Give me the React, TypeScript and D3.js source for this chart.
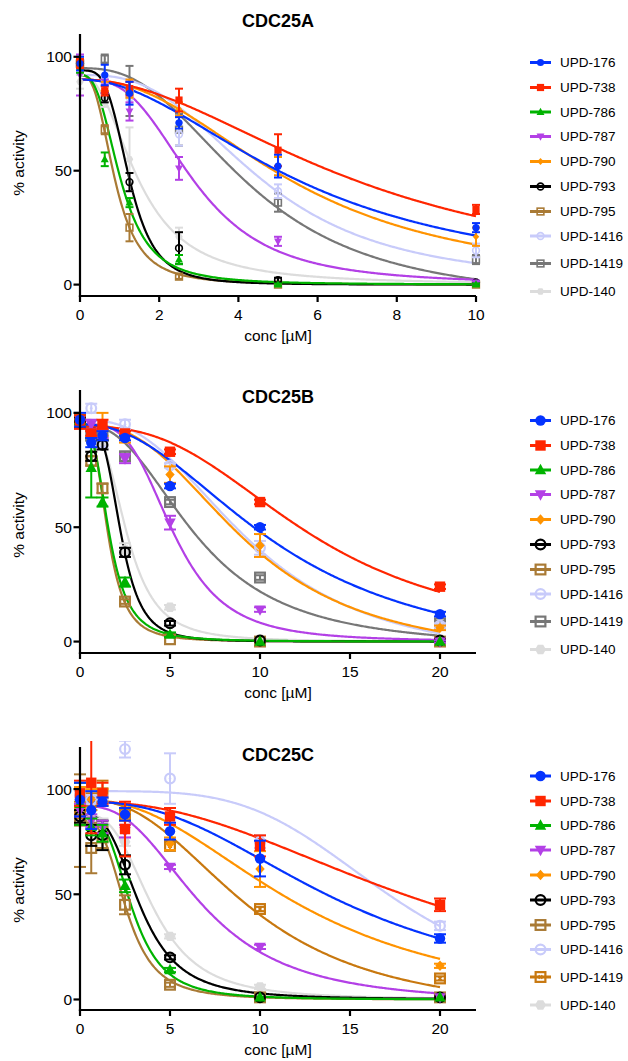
import React from "react";
import * as d3 from "d3";

// ---------- data ----------
const COMPOUNDS = ["UPD-176", "UPD-738", "UPD-786", "UPD-787", "UPD-790", "UPD-793", "UPD-795", "UPD-1416", "UPD-1419", "UPD-140"];
const TITLES = ["CDC25A", "CDC25B", "CDC25C"];

const CONC_A = [0, 0.625, 1.25, 2.5, 5, 10];
const CONC_BC = [0, 0.625, 1.25, 2.5, 5, 10, 20];

const X_TICKS_A = [0, 2, 4, 6, 8, 10];
const X_TICKS_BC = [0, 5, 10, 15, 20];
const Y_TICKS = [0, 50, 100];

// means (% activity), one row per compound
const MEAN_A = [
  [97, 92, 84, 71, 52, 25],
  [97, 85, 86, 81, 59, 33],
  [95, 55, 36, 11, 0, 0],
  [92, 87, 76, 51, 19, 1],
  [97, 87, 86, 77, 52, 21],
  [97, 82, 45, 16, 2, 1],
  [97, 68, 25, 3.5, 0, 0],
  [98, 90, 82, 66, 41, 15],
  [97, 99, 85, 68, 36, 11],
  [89, 80, 55, 21, 2, 0],
];
const SEM_A = [
  [3, 4.5, 5, 2.5, 5, 2],
  [2, 2, 3, 5, 7, 2],
  [2, 3, 2, 2, 0.5, 0.5],
  [9, 3, 4, 5, 2, 0.5],
  [2, 2, 4, 3, 4, 4],
  [2, 2, 4, 7, 1, 0.5],
  [2, 2, 6, 1, 0.5, 0.5],
  [2, 2, 3, 5, 3, 3],
  [2, 2, 11, 7, 4, 2],
  [3, 2, 14, 4, 1, 0.5],
];

const MEAN_B = [
  [97, 87, 90, 89, 68, 50, 12],
  [96, 91, 95, 91, 83, 61, 24],
  [97, 76, 61, 26, 3, 0, 0],
  [97, 95, 91, 80, 52, 14, 0],
  [97, 91, 95, 89, 73, 42, 6],
  [96, 81, 86, 39, 8, 0.5, 0.5],
  [96, 79, 67, 17.5, 1, 0, 0],
  [97, 102, 87, 95, 77, 41, 7],
  [97, 90, 90, 81, 61, 28, 8],
  [95, 90, 88, 40, 15, 1, 1],
];
const SEM_B = [
  [3, 2, 2, 1, 1, 1, 1],
  [3, 1, 2, 1, 1, 1, 1],
  [2, 13, 2, 2, 1, 0, 0],
  [2, 2, 2, 2, 3, 1, 0.5],
  [2, 2, 5, 2, 3.6, 5, 1],
  [2, 2, 2, 2, 1, 0, 0],
  [2, 2, 2, 1, 0, 0, 0],
  [1, 2, 2, 2, 1, 3, 1],
  [2, 2, 2, 2, 1, 1, 1],
  [2, 2, 2, 3, 1, 0, 0],
];

const MEAN_C = [
  [95, 90, 94, 88, 80, 67, 29],
  [98, 103, 98, 81, 87, 73, 45],
  [93, 82, 79, 54, 14, 1, 1],
  [90, 85, 82, 80, 63, 25, 1],
  [96, 95, 97, 86, 74, 62, 16],
  [87, 78, 78, 64, 20, 1, 1],
  [85, 72, 77, 45, 7, 1, 1],
  [97, 95, 95, 119, 105, 75, 35],
  [90, 94, 98, 88, 73, 43, 10],
  [88, 86, 84, 75, 30, 6, 1],
];
const SEM_C = [
  [8, 9, 2, 3, 4, 8.5, 2],
  [6, 24, 5, 13, 4, 5, 3],
  [10, 4, 4, 3, 1, 0, 0],
  [3, 3, 3, 3, 1, 1, 0],
  [5, 5, 3, 3, 3, 8.5, 1],
  [3, 5, 7, 4.5, 1, 0, 0],
  [22, 12, 5, 4.5, 1, 0, 0],
  [2, 2, 2, 4, 12, 3, 2],
  [4, 4, 6, 3, 2, 1, 1],
  [2, 2, 2, 2, 1, 1, 0],
];

// fitted curve parameters: [top, bottom, IC50, hill]
const FIT_A = [
  [90, 0, 5.6, 2],
  [90, 0, 7.07, 2],
  [92, 0, 1.03, 2.8],
  [90, 0, 2.9, 3],
  [90, 0, 5.4, 2.3],
  [94, 0, 1.24, 3.8],
  [92, 0, 0.885, 2.85],
  [92, 0, 4.6, 2.8],
  [95, -8, 4.3, 2.6],
  [92, 0, 1.48, 2.33],
];
const FIT_B = [
  [95, -10, 11, 2.2],
  [94, 0, 12.8, 2.7],
  [95, 0, 1.62, 3],
  [95, 0, 5.2, 3.6],
  [95, -8, 9.3, 2.6],
  [95, 0, 2.27, 4],
  [95, 0, 1.55, 3.2],
  [97, -10, 9.5, 2.6],
  [95, -3, 6.5, 2.5],
  [95, 0, 2.6, 3.2],
];
const FIT_C = [
  [94, 0, 14.4, 2.47],
  [94, 0, 19, 2.3],
  [88, 0, 2.87, 3.33],
  [92, -2, 6.8, 2.7],
  [95, -5, 12.2, 2.3],
  [88, 0, 3.37, 3.1],
  [85, 0, 2.59, 3.25],
  [99, 0, 17.2, 4.05],
  [95, -8, 9.5, 2.5],
  [88, 0, 4.05, 3.1],
];

// ---------- styles ----------
const COLORS_AB = ["#0433ff", "#ff2600", "#00b300", "#b340e6", "#ff9300", "#000000", "#a97a35", "#c8cbfa", "#777777", "#dcdcdc"];
const COLORS_C = ["#0433ff", "#ff2600", "#00b300", "#b340e6", "#ff9300", "#000000", "#a97a35", "#c8cbfa", "#c8780f", "#dcdcdc"];
const SHAPES_AB = ["circle", "square", "triangle", "triangleDown", "diamond", "openCircle", "openSquare", "dotCircle", "dotSquare", "hexagon"];
const SHAPES_C = ["circle", "square", "triangle", "triangleDown", "diamond", "openCircle", "openSquare", "dotCircle", "xSquare", "hexagon"];

const FONT = "'Liberation Sans', Arial, Helvetica, sans-serif";
const LEGEND_OFFSETS = [0, 25, 49.5, 74, 99, 124, 149, 173.5, 201, 229];

function Marker({ shape, color, s, sw }: { shape: string; color: string; s: number; sw: number }) {
  const so = s + sw * 0.35; // open markers drawn slightly larger
  switch (shape) {
    case "circle":
      return <circle r={s} fill={color} />;
    case "square":
      return <rect x={-s} y={-s} width={2 * s} height={2 * s} fill={color} />;
    case "triangle":
      return <path d={`M0,${-s * 1.2}L${s * 1.1},${s * 0.8}L${-s * 1.1},${s * 0.8}Z`} fill={color} />;
    case "triangleDown":
      return <path d={`M0,${s * 1.2}L${s * 1.1},${-s * 0.8}L${-s * 1.1},${-s * 0.8}Z`} fill={color} />;
    case "diamond":
      return <path d={`M0,${-s}L${s * 0.9},0L0,${s}L${-s * 0.9},0Z`} fill={color} />;
    case "openCircle":
      return <circle r={so - sw / 2} fill="none" stroke={color} strokeWidth={sw} />;
    case "openSquare":
      return <rect x={-so + sw / 2} y={-so + sw / 2} width={2 * so - sw} height={2 * so - sw} fill="none" stroke={color} strokeWidth={sw} />;
    case "dotCircle":
      return (
        <g>
          <circle r={so - sw / 2} fill="none" stroke={color} strokeWidth={sw} />
          <circle r={s * 0.25} fill={color} />
        </g>
      );
    case "dotSquare":
      return (
        <g>
          <rect x={-so + sw / 2} y={-so + sw / 2} width={2 * so - sw} height={2 * so - sw} fill="none" stroke={color} strokeWidth={sw} />
          <rect x={-s * 0.2} y={-s * 0.2} width={s * 0.4} height={s * 0.4} fill={color} />
        </g>
      );
    case "xSquare": {
      const k = s * 0.35;
      return (
        <g>
          <rect x={-so + sw / 2} y={-so + sw / 2} width={2 * so - sw} height={2 * so - sw} fill="none" stroke={color} strokeWidth={sw} />
          <path d={`M${-k},${-k}L${k},${k}M${k},${-k}L${-k},${k}`} stroke={color} strokeWidth={sw * 0.7} />
        </g>
      );
    }
    case "hexagon": {
      const pts = d3.range(6).map((i) => {
        const a = (Math.PI / 3) * i;
        return [s * 1.05 * Math.cos(a), s * 1.05 * Math.sin(a)];
      });
      return <path d={"M" + pts.map((p) => p.join(",")).join("L") + "Z"} fill={color} />;
    }
    default:
      return null;
  }
}

type PanelProps = {
  id: string;
  title: string;
  conc: number[];
  means: number[][];
  sems: number[][];
  fits: number[][];
  colors: string[];
  shapes: string[];
  xMax: number;
  xTicks: number[];
  yMax: number;
  top: number;
  axisY: number;
  titleY: number;
  yLabelY: number;
  legendTop: number;
  ms: number;
  cap: number;
  sw: number;
};

function Panel(p: PanelProps) {
  const x = d3.scaleLinear().domain([0, p.xMax]).range([80, 476]);
  const y = d3.scaleLinear().domain([-5, p.yMax]).range([p.axisY, p.top]);
  const lastConc = p.conc[p.conc.length - 1];
  const xs = d3.range(0, 301).map((i) => (lastConc * i) / 300);
  const line = d3
    .line<number[]>()
    .x((d) => x(d[0]))
    .y((d) => y(d[1]));
  const order = d3.range(COMPOUNDS.length).reverse();
  const clipTop = p.top - 6;
  return (
    <g fontFamily={FONT}>
      <defs>
        <clipPath id={p.id}>
          <rect x={60} y={clipTop} width={440} height={p.axisY - clipTop + 20} />
        </clipPath>
      </defs>
      <text x={278} y={p.titleY} textAnchor="middle" fontSize={18} fontWeight="bold">
        {p.title}
      </text>
      {/* curves */}
      {order.map((i) => {
        const [t, b, c, h] = p.fits[i];
        const pts = xs.map((v) => [v, b + (t - b) / (1 + Math.pow(v / c, h))]);
        return <path key={"c" + i} d={line(pts) || ""} fill="none" stroke={p.colors[i]} strokeWidth={2.2} />;
      })}
      {/* points with error bars */}
      <g clipPath={`url(#${p.id})`}>
        {order.map((i) => (
          <g key={"p" + i}>
            {p.conc.map((cv, j) => {
              const m = p.means[i][j];
              const e = p.sems[i][j];
              const cx = x(cv);
              const y1 = y(m + e);
              const y2 = y(m - e);
              return (
                <g key={j}>
                  {e > 0 && (
                    <g stroke={p.colors[i]} strokeWidth={2}>
                      <line x1={cx} x2={cx} y1={y1} y2={y2} />
                      <line x1={cx - p.cap} x2={cx + p.cap} y1={y1} y2={y1} />
                      <line x1={cx - p.cap} x2={cx + p.cap} y1={y2} y2={y2} />
                    </g>
                  )}
                  <g transform={`translate(${cx},${y(m)})`}>
                    <Marker shape={p.shapes[i]} color={p.colors[i]} s={p.ms} sw={p.sw} />
                  </g>
                </g>
              );
            })}
          </g>
        ))}
      </g>
      {/* axes */}
      <g stroke="#000" strokeWidth={2.2} fill="none">
        <line x1={80} x2={80} y1={p.top} y2={p.axisY + 1.1} />
        <line x1={78.9} x2={476} y1={p.axisY} y2={p.axisY} />
        {Y_TICKS.map((t) => (
          <line key={"yt" + t} x1={73.5} x2={80} y1={y(t)} y2={y(t)} />
        ))}
        {p.xTicks.map((t) => (
          <line key={"xt" + t} x1={x(t)} x2={x(t)} y1={p.axisY} y2={p.axisY + 6} />
        ))}
      </g>
      {Y_TICKS.map((t) => (
        <text key={"yl" + t} x={72} y={y(t)} dy="0.35em" textAnchor="end" fontSize={15.5}>
          {t}
        </text>
      ))}
      {p.xTicks.map((t) => (
        <text key={"xl" + t} x={x(t)} y={p.axisY + 24} textAnchor="middle" fontSize={15.5}>
          {t}
        </text>
      ))}
      <text x={278} y={p.axisY + 45} textAnchor="middle" fontSize={15.5}>
        conc [µM]
      </text>
      <text transform={`translate(24,${p.yLabelY}) rotate(-90)`} textAnchor="middle" fontSize={15.5}>
        % activity
      </text>
      {/* legend */}
      {COMPOUNDS.map((name, i) => {
        const ly = p.legendTop + LEGEND_OFFSETS[i];
        return (
          <g key={"lg" + i}>
            <line x1={530} x2={551} y1={ly} y2={ly} stroke={p.colors[i]} strokeWidth={3} />
            <g transform={`translate(540.5,${ly})`}>
              <Marker shape={p.shapes[i]} color={p.colors[i]} s={p.ms} sw={p.sw} />
            </g>
            <text x={560} y={ly} dy="0.35em" fontSize={13.5}>
              {name}
            </text>
          </g>
        );
      })}
    </g>
  );
}

export default function App() {
  return (
    <svg
      width={628}
      height={1061}
      style={{ position: "absolute", left: 0, top: 0, background: "#fff" }}
    >
      <rect width={628} height={1061} fill="#fff" />
      <Panel
        id="clipA"
        title={TITLES[0]}
        conc={CONC_A}
        means={MEAN_A}
        sems={SEM_A}
        fits={FIT_A}
        colors={COLORS_AB}
        shapes={SHAPES_AB}
        xMax={10}
        xTicks={X_TICKS_A}
        yMax={110}
        top={34}
        axisY={296}
        titleY={27}
        yLabelY={163}
        legendTop={62.5}
        ms={3.6}
        cap={4}
        sw={1.6}
      />
      <Panel
        id="clipB"
        title={TITLES[1]}
        conc={CONC_BC}
        means={MEAN_B}
        sems={SEM_B}
        fits={FIT_B}
        colors={COLORS_AB}
        shapes={SHAPES_AB}
        xMax={22}
        xTicks={X_TICKS_BC}
        yMax={110}
        top={390}
        axisY={653}
        titleY={403}
        yLabelY={525}
        legendTop={420.5}
        ms={5.2}
        cap={6}
        sw={2.2}
      />
      <Panel
        id="clipC"
        title={TITLES[2]}
        conc={CONC_BC}
        means={MEAN_C}
        sems={SEM_C}
        fits={FIT_C}
        colors={COLORS_C}
        shapes={SHAPES_C}
        xMax={22}
        xTicks={X_TICKS_BC}
        yMax={120}
        top={747}
        axisY={1010}
        titleY={761}
        yLabelY={890}
        legendTop={776}
        ms={5.2}
        cap={6}
        sw={2.2}
      />
    </svg>
  );
}
